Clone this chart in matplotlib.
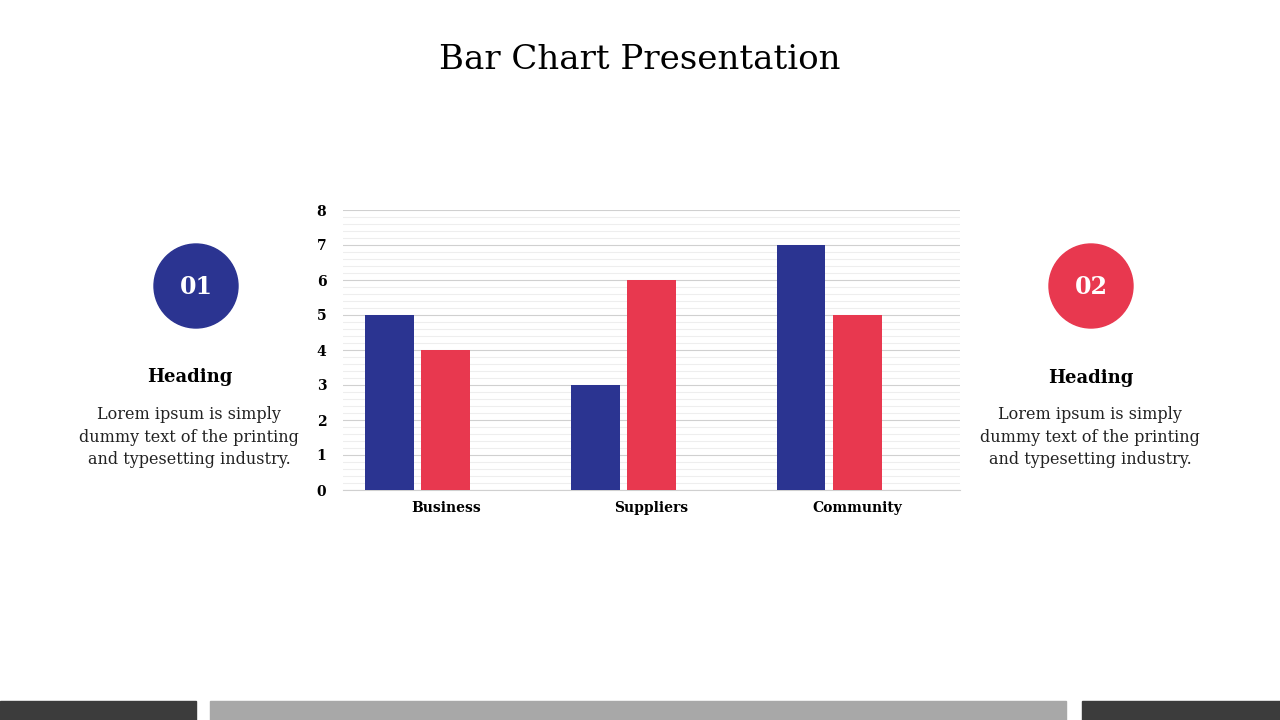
import matplotlib
matplotlib.use("Agg")
import matplotlib.pyplot as plt
from matplotlib.patches import Circle, Rectangle
import numpy as np

categories = ["Business", "Suppliers", "Community"]
series1 = [5, 3, 7]
series2 = [4, 6, 5]
series3 = [0, 0, 0]
yticks = [0, 1, 2, 3, 4, 5, 6, 7, 8]

BLUE = "#2B3491"
RED = "#E8384F"
SERIF = ["DejaVu Serif"]

fig = plt.figure(figsize=(12.8, 7.2), dpi=100)
fig.patch.set_facecolor("white")

W, H = 1280, 720
def fx(px): return px / W
def fy(py): return 1 - py / H

# Title
fig.text(0.5, fy(60), "Bar Chart Presentation", ha="center", va="center",
         fontsize=24.5, family=SERIF)

# Axes
ax = fig.add_axes([fx(343), fy(490), fx(960) - fx(343), (490 - 210) / H])
x = np.arange(len(categories))
w = 0.238
off = 0.273
ax.bar(x - off, series1, width=w, color=BLUE, zorder=3)
ax.bar(x, series2, width=w, color=RED, zorder=3)
ax.bar(x + off, series3, width=w, color="none", zorder=3)
ax.set_xlim(-0.5, len(categories) - 0.5)
ax.set_ylim(0, 8)
ax.set_yticks(yticks)
ax.set_yticks(np.arange(0, 8.01, 0.2), minor=True)
ax.grid(axis="y", which="major", color="#d0d0d0", linewidth=0.8, zorder=0)
ax.grid(axis="y", which="minor", color="#eeeeee", linewidth=0.8, zorder=0)
ax.set_xticks(x)
ax.set_xticklabels(categories, fontsize=10, fontweight="bold", family=SERIF)
ax.set_yticklabels([str(t) for t in yticks], fontsize=10, fontweight="bold", family=SERIF)
ax.tick_params(axis="both", which="both", length=0)
ax.tick_params(axis="x", pad=8)
ax.tick_params(axis="y", pad=12)
for s in ["top", "right", "left"]:
    ax.spines[s].set_visible(False)
ax.spines["bottom"].set_color("#d0d0d0")

# Decorations overlay
ov = fig.add_axes([0, 0, 1, 1], zorder=-1)
ov.set_xlim(0, W)
ov.set_ylim(H, 0)
ov.axis("off")
ov.set_aspect("equal")
for cx, col, lab in [(196, BLUE, "01"), (1091, RED, "02")]:
    ov.add_patch(Circle((cx, 286), 42, color=col))
    ov.text(cx, 287, lab, ha="center", va="center", color="white",
            fontsize=17, fontweight="bold", family=SERIF)
for cx, hy in [(190, 377), (1091, 378)]:
    ov.text(cx, hy, "Heading", ha="center", va="center", fontsize=13,
            fontweight="bold", family=SERIF)
    ov.text(cx - 1, 437, "Lorem ipsum is simply\ndummy text of the printing\nand typesetting industry.",
            ha="center", va="center", fontsize=11.5, family=SERIF, linespacing=1.4,
            color="#222222")

# bottom bars
ov.add_patch(Rectangle((0, 701), 196, 19, color="#3c3c3c"))
ov.add_patch(Rectangle((210, 701), 856, 19, color="#a8a8a8"))
ov.add_patch(Rectangle((1082, 701), 198, 19, color="#3c3c3c"))

fig.savefig("out.png", dpi=100)
